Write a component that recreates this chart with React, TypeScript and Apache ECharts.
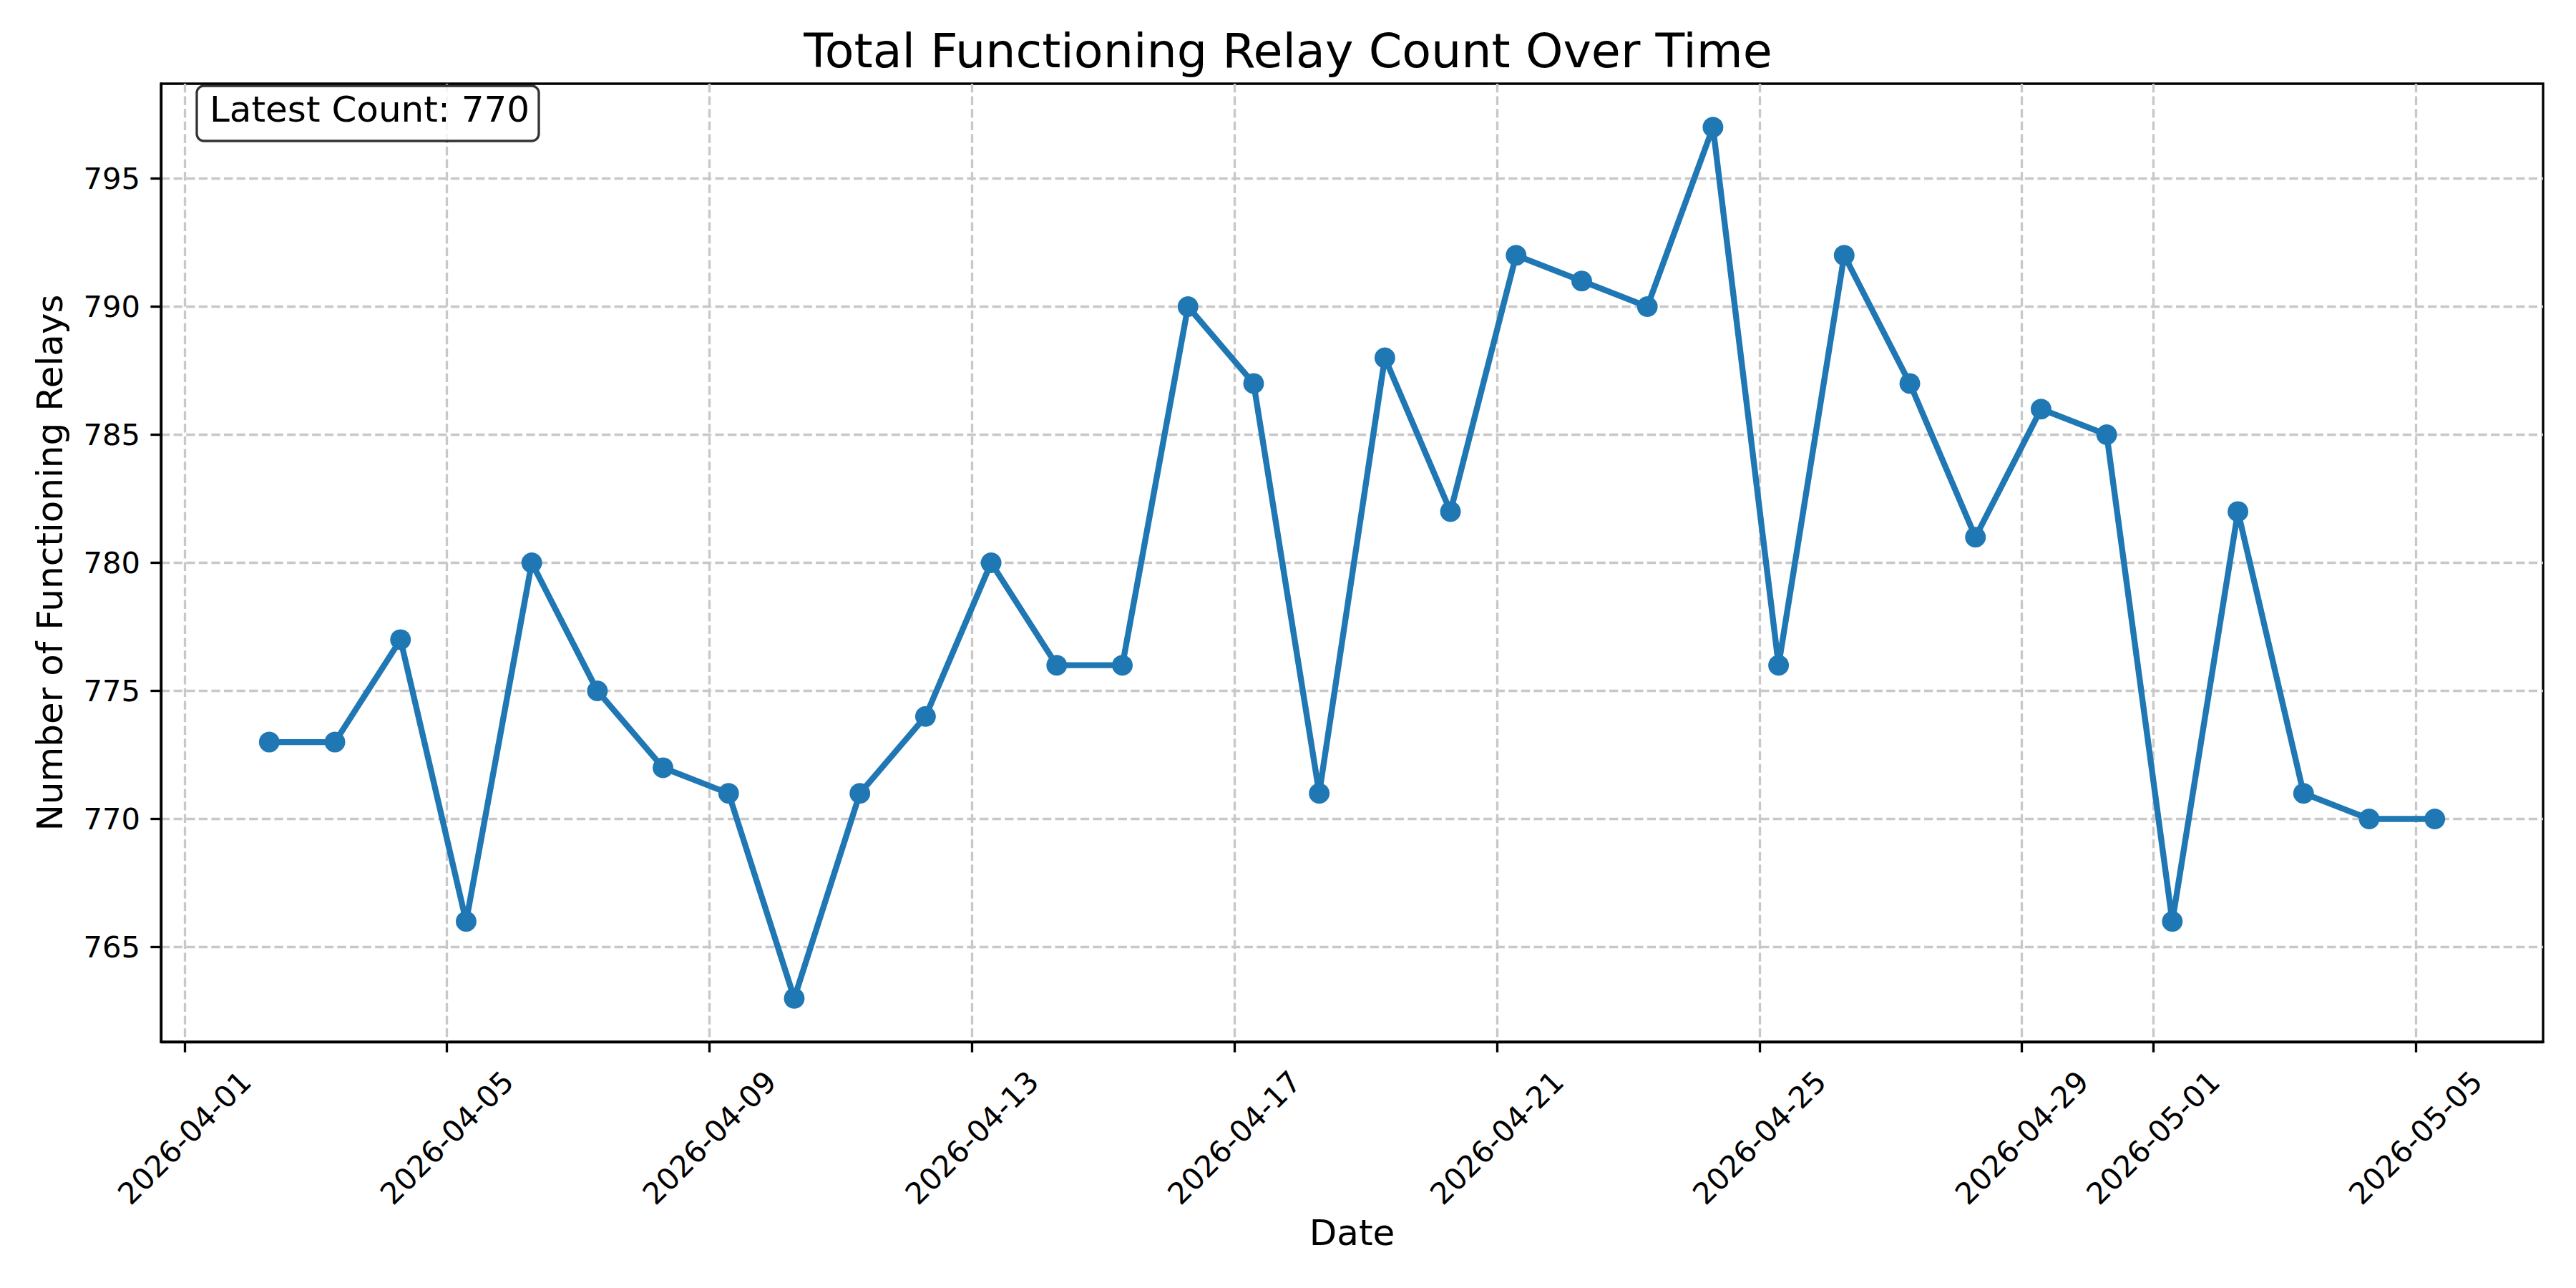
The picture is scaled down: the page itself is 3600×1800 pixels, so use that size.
import React, { useEffect, useRef } from "react";
import * as echarts from "echarts";

const dates: string[] = [
  "2026-04-02", "2026-04-03", "2026-04-04", "2026-04-05", "2026-04-06", "2026-04-07",
  "2026-04-08", "2026-04-09", "2026-04-10", "2026-04-11", "2026-04-12", "2026-04-13",
  "2026-04-14", "2026-04-15", "2026-04-16", "2026-04-17", "2026-04-18", "2026-04-19",
  "2026-04-20", "2026-04-21", "2026-04-22", "2026-04-23", "2026-04-24", "2026-04-25",
  "2026-04-26", "2026-04-27", "2026-04-28", "2026-04-29", "2026-04-30", "2026-05-01",
  "2026-05-02", "2026-05-03", "2026-05-04", "2026-05-05",
];
const sampleTime = "07:00:00";
const counts: number[] = [
  773, 773, 777, 766, 780, 775, 772, 771, 763, 771, 774, 780,
  776, 776, 790, 787, 771, 788, 782, 792, 791, 790, 797, 776,
  792, 787, 781, 786, 785, 766, 782, 771, 770, 770,
];
const xTickDates: string[] = [
  "2026-04-01", "2026-04-05", "2026-04-09", "2026-04-13", "2026-04-17",
  "2026-04-21", "2026-04-25", "2026-04-29", "2026-05-01", "2026-05-05",
];
const yTicks: number[] = [765, 770, 775, 780, 785, 790, 795];

const FONT = "DejaVu Sans";
const pad2 = (n: number) => (n < 10 ? "0" + n : "" + n);
const fmtDate = (v: number) => {
  const d = new Date(v);
  return `${d.getFullYear()}-${pad2(d.getMonth() + 1)}-${pad2(d.getDate())}`;
};

export default function App() {
  const ref = useRef<HTMLDivElement>(null);
  useEffect(() => {
    if (!ref.current) return;
    const chart = echarts.init(ref.current, undefined, { renderer: "svg" });
    const times = dates.map((d) => new Date(`${d}T${sampleTime}`).getTime());
    const tickTimes = xTickDates.map((d) => new Date(`${d}T00:00:00`).getTime());
    const tSpan = times[times.length - 1] - times[0];
    const xMin = times[0] - 0.05 * tSpan;
    const xMax = times[times.length - 1] + 0.05 * tSpan;
    const vMin = Math.min(...counts);
    const vMax = Math.max(...counts);
    const vSpan = vMax - vMin;
    const yMin = vMin - 0.05 * vSpan;
    const yMax = vMax + 0.05 * vSpan;
    const gridColor = "#c8c8c8";
    const latest = counts[counts.length - 1];

    chart.setOption({
      animation: false,
      backgroundColor: "#ffffff",
      title: {
        text: "Total Functioning Relay Count Over Time",
        left: "center",
        top: 32,
        textStyle: { fontFamily: FONT, fontSize: 66.7, fontWeight: "normal", color: "#000" },
      },
      grid: {
        left: 225,
        right: 46,
        top: 117,
        bottom: 344,
        show: true,
        borderColor: "#000",
        borderWidth: 3.33,
        backgroundColor: "transparent",
      },
      xAxis: {
        type: "value",
        min: xMin,
        max: xMax,
        name: "Date",
        nameLocation: "middle",
        nameGap: 242,
        nameTextStyle: { fontFamily: FONT, fontSize: 50, color: "#000" },
        axisLine: { show: true, lineStyle: { color: "#000", width: 3.33 } },
        axisTick: {
          show: true,
          length: 14.6,
          lineStyle: { color: "#000", width: 3.33 },
          customValues: tickTimes,
        },
        axisLabel: {
          customValues: tickTimes,
          rotate: 45,
          align: "center",
          verticalAlign: "middle",
          margin: 134,
          fontFamily: FONT,
          fontSize: 41.7,
          color: "#000",
          formatter: (v: number) => fmtDate(v),
          hideOverlap: false,
        },
        splitLine: {
          show: true,
          lineStyle: { color: gridColor, width: 3.33, type: [12.3, 5.3] },
        },
      },
      yAxis: {
        type: "value",
        min: yMin,
        max: yMax,
        name: "Number of Functioning Relays",
        nameLocation: "middle",
        nameGap: 130,
        nameTextStyle: { fontFamily: FONT, fontSize: 50, color: "#000" },
        axisLine: { show: true, lineStyle: { color: "#000", width: 3.33 } },
        axisTick: {
          show: true,
          length: 14.6,
          lineStyle: { color: "#000", width: 3.33 },
          customValues: yTicks,
        },
        axisLabel: {
          customValues: yTicks,
          margin: 29,
          fontFamily: FONT,
          fontSize: 41.7,
          color: "#000",
          formatter: (v: number) => String(Math.round(v)),
        },
        splitLine: {
          show: true,
          lineStyle: { color: gridColor, width: 3.33, type: [12.3, 5.3] },
        },
      },
      graphic: [
        {
          type: "rect",
          z: 100,
          shape: { x: 275, y: 120, width: 478, height: 77, r: 10 },
          style: { fill: "rgba(255,255,255,0.8)", stroke: "rgba(0,0,0,0.8)", lineWidth: 3.33 },
        },
        {
          type: "text",
          z: 101,
          x: 293,
          y: 153,
          style: {
            text: `Latest Count: ${latest}`,
            fontFamily: FONT,
            fontSize: 50,
            fill: "#000",
            verticalAlign: "middle",
            align: "left",
          },
        },
      ],
      series: [
        {
          type: "line",
          data: times.map((t, i) => [t, counts[i]]),
          symbol: "circle",
          symbolSize: 29,
          showSymbol: true,
          lineStyle: { color: "#1f77b4", width: 8.33 },
          itemStyle: { color: "#1f77b4" },
          z: 5,
        },
      ],
    });
    return () => chart.dispose();
  }, []);
  return (
    <div
      ref={ref}
      style={{ position: "fixed", left: 0, top: 0, width: 3600, height: 1800, background: "#fff" }}
    />
  );
}
